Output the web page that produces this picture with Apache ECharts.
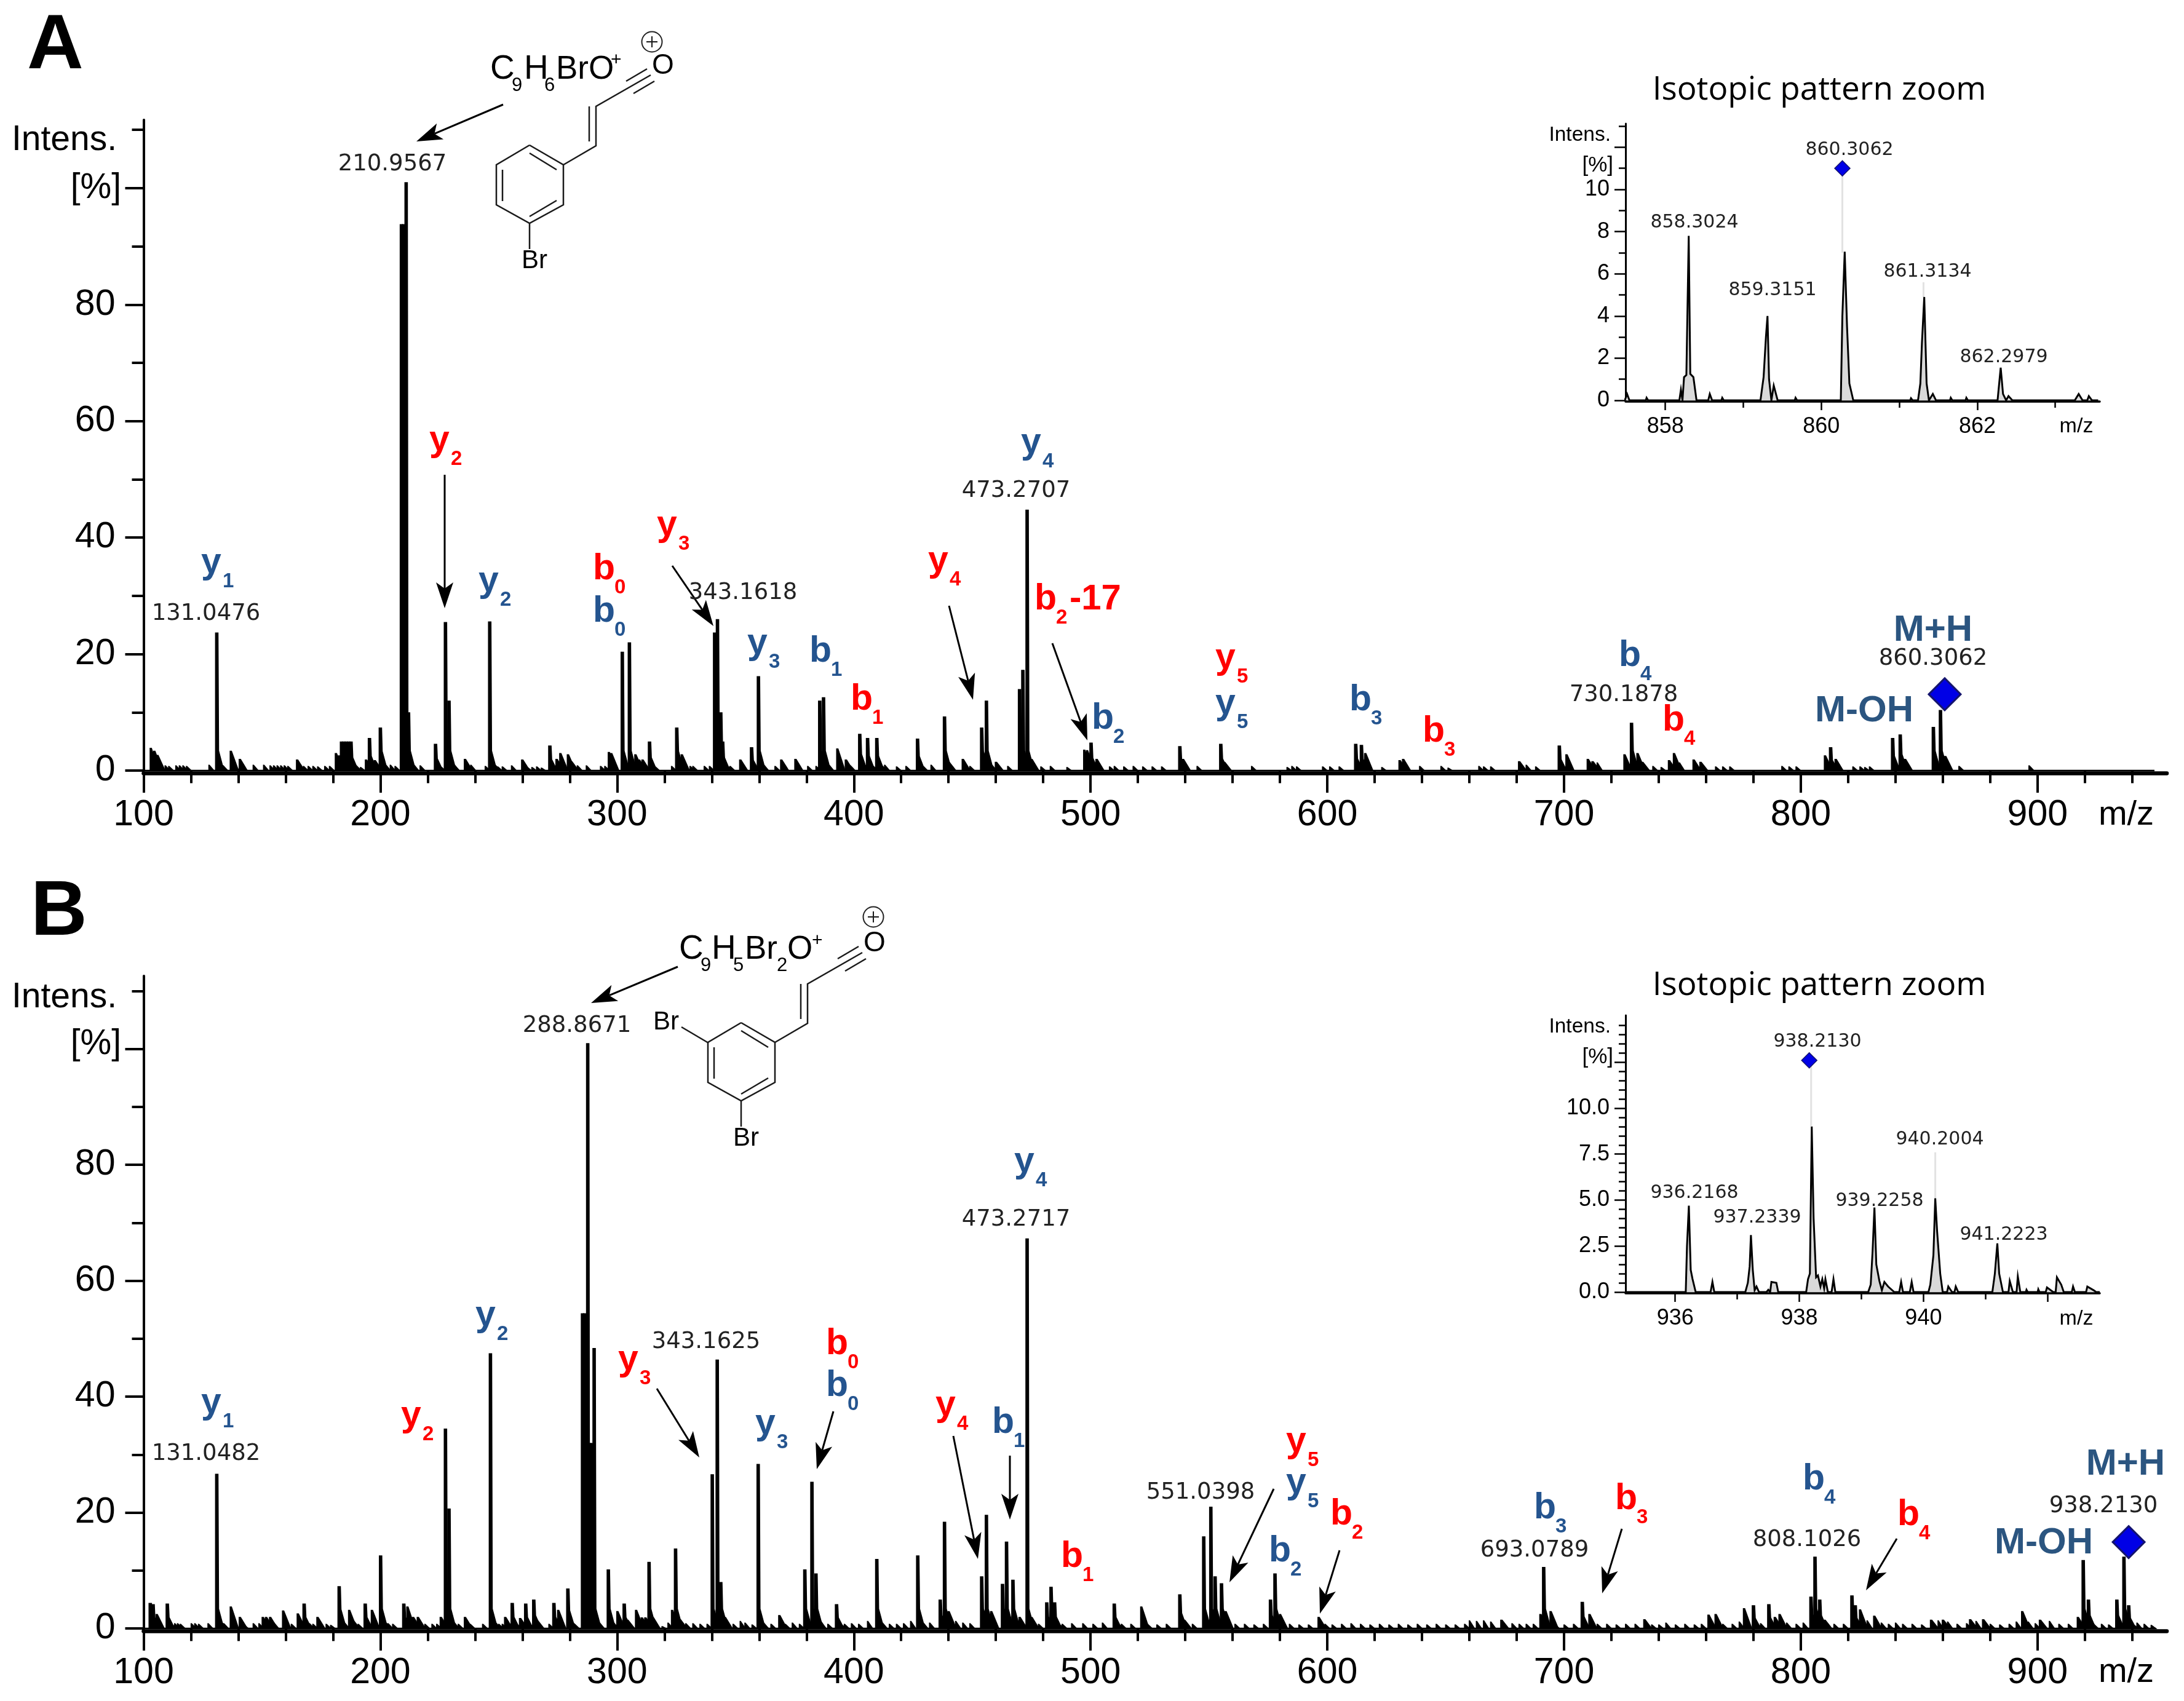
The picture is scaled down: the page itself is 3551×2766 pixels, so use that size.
<!DOCTYPE html>
<html><head><meta charset="utf-8">
<style>html,body{margin:0;padding:0;background:#fff}#c{width:3551px;height:2766px}</style>
<script src="https://cdn.jsdelivr.net/npm/echarts@6/dist/echarts.min.js"></script>
</head><body><div id="c"></div>
<script>
// ---------- values ----------
const peaksA = [[103,3.9],[104.5,3.4],[105.8,2.7],[109.1,.9],[110.6,.8],[113.6,.9],[115.1,.9],[116.6,.9],[118.1,.8],[127.6,1],[130.9,23.7],[133.5,.9],[136.8,3.4],[138.3,1],[140.6,2],[146.3,1],[150.7,1],[153.4,.9],[154.9,.9],[156.4,.9],[157.9,.9],[159.4,.9],[160.9,.8],[164.8,1.9],[167.5,.8],[169.5,.8],[171.5,.8],[173.5,.7],[176.5,.8],[178.5,.8],[181.2,3],[182.5,2.6],[183.6,5],[184.6,5],[185.6,5],[186.6,5],[187.6,5],[189.8,.9],[191.6,.6],[193.9,1.9],[195.4,5.6],[197.6,1.8],[200,7.4],[204.2,1],[206.2,.8],[208.9,93.8],[209.8,93.8],[210.9,101],[211.9,10],[216.8,.9],[223.3,4.6],[227.5,25.5],[229,12],[231.3,.9],[235.7,2],[238.2,1],[244.3,.8],[246.2,25.6],[249.5,.7],[251.5,.7],[255.4,.9],[259.9,1.9],[262,.6],[264,.6],[266,.7],[268,.5],[271.6,4.3],[274.4,2],[276,3],[279.2,2.8],[280.6,1.6],[281.8,.9],[283.2,.9],[287,.9],[293,.8],[294.8,.8],[296.5,3.2],[297.5,3],[302.2,20.4],[305.2,22],[307.7,2.8],[309.2,1.9],[310.7,1.9],[313.7,5],[323,.8],[325.2,7.4],[327.3,2.8],[330.8,.8],[332,.8],[336.8,.8],[339,.8],[341.2,23.7],[342.4,26],[343.8,10],[344.6,5],[347.7,.8],[352,1.9],[356.8,4],[359.7,16.2],[366.7,.8],[369.3,1.9],[375.3,2],[380.5,.8],[384,.8],[385.6,12],[387.2,12.6],[393,3.8],[396.6,1.9],[398.5,.9],[402.5,6.3],[405.8,5.6],[409.7,5.6],[413,1],[418,.7],[422,.8],[426.9,5.5],[432.6,1],[438.3,9.3],[440,1.5],[446,2],[449,.8],[454,7.4],[456,12],[460,1.5],[465,.8],[470,14],[471.4,17.3],[473.2,44.8],[475,2],[479,.7],[483,.8],[490,.6],[497.3,3.6],[498.5,3.5],[500.2,4.8],[502.5,2],[508,.7],[510,.8],[514,.7],[518,.8],[522,.7],[526,.7],[530,.7],[537.7,4.2],[539,2],[545,.8],[555,4.6],[556.4,1.5],[568,.8],[583,.6],[585,.8],[587,.7],[598,.7],[601,.7],[605,.7],[612,4.6],[614.4,4.4],[616,3],[623,.6],[630.5,1.8],[632,2],[639,.8],[648,.8],[651,.5],[664,.8],[666,.7],[669,.7],[681,1.6],[684,1],[688,.7],[698,4.3],[701,2.8],[710,2],[712,1.6],[714,1.4],[725.5,2.8],[728.5,8.2],[731,3],[733,1.5],[737.5,.8],[741,.6],[744.3,1.8],[746.4,3],[748.7,1.4],[754.7,1.9],[757.6,1.5],[764,.7],[767,.7],[770,.7],[792,.8],[795,.7],[798,.7],[810.2,2.6],[812.6,4],[814.7,2],[822,.7],[825,.7],[827,.6],[829,.7],[838.8,5.6],[842,6.2],[844,2],[856,7.5],[859,10.4],[861,2.5],[866.8,.8],[896.4,.9]];

const peaksB = [[102.8,4.4],[104,4.2],[105.5,2.5],[110,4.3],[113.1,.9],[114.3,.9],[115.5,.8],[120.1,.9],[121.6,.9],[123.2,.8],[127.2,.9],[130.9,26.7],[133.8,.9],[136.8,3.8],[140.6,2],[142.3,.7],[146.3,.9],[148.7,.9],[150.3,2],[151.7,2],[153.4,2],[155,1],[158.9,3.1],[160.4,.9],[162.4,.8],[165.1,2.6],[167.8,4.3],[170,.9],[171.5,.8],[173.4,2],[177.1,.8],[179,.6],[182.6,7.3],[184,.9],[186.8,3.2],[188.2,1.5],[190.6,.8],[193.6,4.3],[196.4,3.2],[200.1,12.6],[203.2,.9],[205.2,.8],[209.9,4.3],[211.4,3.8],[213.8,2],[215.8,2],[218.8,.8],[221.8,.8],[223.8,.8],[225.5,2],[227.5,34.5],[229,20.7],[232.9,.8],[235.7,2],[237.9,.8],[243.2,.8],[246.5,47.5],[250,.8],[251.5,.8],[252.7,2],[255.7,4.4],[257,1.2],[259,1.8],[261.4,4.3],[264.8,5],[266,1.5],[271.2,.8],[273.3,4.4],[275.1,3.2],[279.2,6.9],[282,.8],[285.4,54.4],[286.4,54.4],[287.6,101],[288.6,32],[289.3,32],[290.3,48.4],[292.5,.8],[296.3,10.2],[300.1,3],[303,4.3],[304.3,1.5],[308,3.2],[310.4,1.9],[311.9,1.9],[313.5,11.5],[315,2],[319,.4],[321.5,1],[323.2,3.2],[324.7,13.8],[326.5,1.6],[329,.9],[332,.9],[335,.8],[338,.8],[340.2,26.6],[342.3,46.4],[343.8,8],[345.5,2],[349,.8],[352,1.3],[354,1],[357,.7],[359.6,28.4],[362,.8],[365,.8],[368.5,2.3],[371,.8],[374,1],[377,.8],[379.3,10.2],[382.3,25.3],[384,9.5],[386,1.3],[389,.8],[392.7,4.2],[396,.8],[399,.9],[402,.8],[405.8,1.3],[409.7,12],[412,1],[415,.8],[418,.8],[421,.9],[424,1.3],[427,12.6],[429,1],[432,1],[436.5,5],[438.3,18.4],[440,3],[443,1.3],[446,1],[449,.9],[454,9],[456,19.6],[458,3],[462.8,7.7],[464.5,15],[467.2,8.4],[470,2],[473.2,67.3],[475,2],[478,.8],[481.5,4.5],[483.3,7.2],[484.8,4.5],[488,.8],[492,.9],[496.7,.9],[501,.8],[505,1],[510,4.3],[513,.8],[517,.8],[521.4,3.8],[524,.8],[528,.7],[532,.8],[537.7,5.9],[539.5,1.5],[543,.8],[547.8,15.9],[550.8,21],[552.6,9],[555.3,7.8],[557,3],[561,.8],[565,.8],[569,.7],[573,.8],[576,5],[577.9,9.5],[580,2.5],[584,.8],[588,.7],[592,.7],[596.3,2],[599,.8],[602,.7],[606,.8],[610,.9],[614,.8],[618,.7],[622,.8],[626,.7],[630,.8],[634,.7],[638,.8],[642,.7],[646,.8],[650,.7],[654,.7],[658,.8],[660,1.4],[663,1.3],[666,1.4],[669,1.2],[673.5,1.5],[678,.9],[681,.8],[684,.8],[687,.8],[690,2.5],[691.4,10.6],[694.3,3],[696,.8],[700,.7],[704,.8],[707.7,4.6],[710.7,2.5],[714,.8],[718,.8],[722,.7],[726,.8],[730,.8],[733.9,1.6],[737,.7],[740,.7],[743,1],[747,.7],[751,.8],[755,.7],[758,.8],[761,2.4],[764,2.5],[767,.8],[771,.8],[774,1.2],[776,3.5],[780,4],[783,.9],[786.5,4.2],[789,2],[791,2.5],[794,1],[798,.8],[801,1],[804.3,5.5],[806,12.4],[808,5],[810,1.5],[814,.8],[818,.8],[821.6,5.7],[823,4],[825,3.3],[828,1.4],[831,2.2],[834,1],[837,.8],[840,1],[843,.8],[847,.8],[851,.7],[855,1.5],[858,1.4],[860,1.5],[862,1.2],[866,.8],[870,.9],[871.5,1.6],[874,1.3],[877,1.6],[880,.8],[884,.7],[888,.8],[891,1.2],[893.5,3],[896,1.2],[899,.9],[901,1.5],[905,1.3],[909,.8],[913,.8],[917,2],[919.3,11.8],[921.5,5],[923,1.2],[927,.8],[930,.7],[933.5,5],[936.5,12.4],[938.5,4],[942,1],[945,.8],[948,.6]];

const baselineA = [[100,0],[949.4,0]];
const baselineB = [[100,0],[950,0]];

const insetA = [[857.48,0],[857.51,.3],[857.54,0],[857.75,0],[857.76,.12],[857.78,0],[858.18,0],[858.2,.5],[858.22,0],[858.24,1.1],[858.27,1.2],[858.30,7.8],[858.32,1.25],[858.36,1.1],[858.4,0],[858.55,0],[858.57,.3],[858.6,0],[858.72,0],[858.73,.12],[858.75,0],[859.22,0],[859.26,1.1],[859.29,3],[859.31,4],[859.33,1],[859.36,0],[859.39,.7],[859.44,0],[859.66,0],[859.67,.12],[859.69,0],[860.25,0],[860.27,4],[860.3,7.05],[860.33,3.5],[860.36,.8],[860.41,0],[861.14,0],[861.15,.1],[861.17,0],[861.24,0],[861.27,.8],[861.29,2.7],[861.32,4.9],[861.35,.8],[861.38,0],[861.43,.3],[861.47,0],[861.65,0],[861.66,.12],[861.68,0],[861.85,0],[861.86,.12],[861.88,0],[862.26,0],[862.3,1.55],[862.33,.3],[862.37,0],[862.4,.2],[862.45,0],[863.25,0],[863.3,.3],[863.35,0],[863.41,0],[863.43,.2],[863.47,0],[863.55,0]];

const insetB = [[935.2,0],[936.17,0],[936.19,2.5],[936.22,4.7],[936.25,1.2],[936.28,.7],[936.33,0],[936.57,0],[936.6,.55],[936.63,0],[937.13,0],[937.17,.5],[937.2,1.4],[937.22,3.1],[937.25,1.2],[937.28,.1],[937.31,.3],[937.35,0],[937.47,0],[937.5,.12],[937.53,0],[937.55,.55],[937.63,.5],[937.66,0],[938.11,0],[938.14,.7],[938.17,1],[938.2,9],[938.23,4],[938.27,.8],[938.3,.9],[938.34,.3],[938.37,.7],[938.4,.2],[938.42,.7],[938.46,0],[938.52,0],[938.55,.7],[938.58,0],[939.11,0],[939.15,.4],[939.18,2.2],[939.21,4.6],[939.24,1.5],[939.29,.6],[939.33,.1],[939.37,.55],[939.43,.3],[939.53,0],[939.61,0],[939.64,.55],[939.67,0],[939.78,0],[939.81,.55],[939.84,0],[940.08,0],[940.11,.4],[940.16,2],[940.19,5.1],[940.22,3.3],[940.27,1],[940.31,0],[940.38,0],[940.4,.3],[940.46,0],[940.5,0],[940.52,.3],[940.56,0],[941.11,0],[941.15,1],[941.19,2.65],[941.22,1],[941.28,0],[941.37,0],[941.39,.6],[941.44,0],[941.5,0],[941.52,.85],[941.56,0],[941.65,0],[941.66,.12],[941.68,0],[941.84,0],[941.85,.15],[941.87,0],[941.97,0],[941.99,.25],[942.09,0],[942.13,0],[942.15,.8],[942.22,.4],[942.26,0],[942.39,0],[942.41,.3],[942.44,0],[942.62,0],[942.64,.3],[942.75,.08],[942.78,0],[942.84,0]];

const stemsA = [[[860.27,7],[860.27,10.8]],[[861.31,4.9],[861.31,5.6]]];
const stemsB = [[[938.19,9],[938.19,12.4]],[[940.19,5.1],[940.19,7.6]]];
const diamondMainA = [[860.8,13.1]];
const diamondMainB = [[938.5,14.9]];
const diamondInsetA = [[860.27,11]];
const diamondInsetB = [[938.16,12.6]];

const mainXMajor = [100,200,300,400,500,600,700,800,900];
const mainXMinor = [120,140,160,180,220,240,260,280,320,340,360,380,420,440,460,480,520,540,560,580,620,640,660,680,720,740,760,780,820,840,860,880,920,940];
const mainYMajor = [0,20,40,60,80,100];
const mainYMinor = [10,30,50,70,90,110];
const mainYLabels = [0,20,40,60,80];
const insetAXMajor = [858,860,862], insetAXMinor = [859,861,863];
const insetAYMajor = [0,2,4,6,8,10,12], insetAYMinor = [1,3,5,7,9,11,13];
const insetAYLabels = [0,2,4,6,8,10];
const insetBXMajor = [936,938,940,942], insetBXMinor = [937,939,941];
const insetBXLabels = [936,938,940];
const insetBYMajor = [0,2.5,5,7.5,10,12.5];
const insetBYMinor = [.5,1,1.5,2,3,3.5,4,4.5,5.5,6,6.5,7,8,8.5,9,9.5,10.5,11,11.5,12,13,13.5,14,14.5];
const insetBYLabels = [0,2.5,5,7.5,10];

// ---------- annotations ----------
const RED='#ff0000', BLUE='#24548f', NAVY='#2b5580';
// letter, subscript, colour, left, baseline
const ions = [
 ['y','1',BLUE,327,936],['y','2',RED,698,737],['y','2',BLUE,778,966],['b','0',RED,964,946],['b','0',BLUE,964,1015],
 ['y','3',RED,1068,875],['y','3',BLUE,1215,1067],['b','1',BLUE,1316,1080],['b','1',RED,1383,1158],['y','4',RED,1509,933],
 ['y','4',BLUE,1660,741],['b','2',RED,1682,995],['b','2',BLUE,1775,1189],['y','5',RED,1976,1091],['y','5',BLUE,1976,1165],
 ['b','3',BLUE,2194,1159],['b','3',RED,2313,1210],['b','4',BLUE,2632,1087],['b','4',RED,2703,1192],
 ['y','1',BLUE,327,2302],['y','2',RED,652,2323],['y','2',BLUE,773,2160],['y','3',RED,1005,2232],['y','3',BLUE,1228,2336],
 ['b','0',RED,1343,2206],['b','0',BLUE,1343,2274],['y','4',RED,1521,2306],['b','1',BLUE,1613,2334],['y','4',BLUE,1649,1910],
 ['b','1',RED,1725,2552],['y','5',RED,2091,2365],['y','5',BLUE,2091,2432],['b','2',RED,2163,2483],['b','2',BLUE,2063,2543],
 ['b','3',BLUE,2494,2473],['b','3',RED,2626,2458],['b','4',BLUE,2931,2426],['b','4',RED,3085,2484]
];
const massLabels = [
 ['131.0476',335,998],['210.9567',638,267],['343.1618',1208,964],['473.2707',1652,798],['730.1878',2640,1130],['860.3062',3143,1071],
 ['131.0482',335,2364],['288.8671',938,1668],['343.1625',1148,2182],['473.2717',1652,1983],['551.0398',1952,2427],['693.0789',2495,2521],['808.1026',2938,2504],['938.2130',3420,2449]
];
const insetLabels = [
 ['858.3024',2755,362],['859.3151',2882,472],['860.3062',3007,244],['861.3134',3134,442],['862.2979',3258,581],
 ['936.2168',2755,1940],['937.2339',2857,1980],['938.2130',2955,1694],['939.2258',3056,1953],['940.2004',3154,1853],['941.2223',3258,2008]
];
const arrows = [
 [818,170,677,230],[723,772,723,989],[1093,920,1160,1018],[1543,985,1582,1138],[1711,1046,1768,1204],
 [1102,1572,961,1631],[1068,2258,1137,2370],[1355,2295,1328,2389],[1550,2335,1590,2535],[1642,2367,1642,2471],
 [2071,2421,1999,2573],[2178,2521,2146,2624],[2637,2486,2605,2591],[3084,2502,3034,2586]
];

// ---------- helpers ----------
const SANS='"Liberation Sans"', DV='"DejaVu Sans"';
const g=[];
function T(text,x,y,size,opt){opt=opt||{};
 g.push({type:'text',silent:true,x:x,y:y,z:20,style:{text:text,fill:opt.fill||'#000',textAlign:opt.align||'left',textVerticalAlign:'middle',
  font:(opt.weight||'normal')+' '+size+'px '+(opt.family||SANS)}});}
function B(text,x,base,size,opt){T(text,x,base-0.3465*size,size,opt);}
function L(pts,w,c){g.push({type:'polyline',silent:true,z:15,shape:{points:pts},style:{stroke:c||'#1a1a1a',lineWidth:w||2.5,fill:null}});}
function arrow(a){const [x0,y0,x1,y1]=a,dx=x1-x0,dy=y1-y0,l=Math.hypot(dx,dy),u=dx/l,v=dy/l;
 const len=42,hw=14,notch=32;
 L([[x0,y0],[x1-u*notch,y1-v*notch]],3,'#000');
 g.push({type:'polygon',silent:true,z:16,shape:{points:[[x1,y1],[x1-u*len-v*hw,y1-v*len+u*hw],[x1-u*notch,y1-v*notch],[x1-u*len+v*hw,y1-v*len-u*hw]]},style:{fill:'#000'}});}
function chem(dx,dy){const P=(x,y)=>[x+dx,y+dy];
 L([P(861,236),P(916,268),P(916,333),P(861,363),P(807,333),P(807,268),P(861,236)]);
 L([P(861,249),P(905,276)]);L([P(817,276),P(817,327)]);L([P(861,352),P(905,326)]);
 L([P(916,268),P(969,237),P(969,173),P(1058,122)]);L([P(958,230),P(958,173)]);
 L([P(1018,132),P(1052,112)]);L([P(1030,152),P(1064,132)]);
 L([P(861,363),P(861,405)]);
 const o=P(1078,107);T('O',o[0],o[1],46,{align:'center'});
 const b=P(869,424);T('Br',b[0],b[1],42,{align:'center'});
}
function plus(x,y){g.push({type:'circle',silent:true,z:15,shape:{cx:x,cy:y,r:16.5},style:{fill:null,stroke:'#222',lineWidth:2}});L([[x-9,y],[x+9,y]],2);L([[x,y-9],[x,y+9]],2);}

// panel letters
B('A',44,120,127,{weight:'bold'});B('B',50,1529,127,{weight:'bold'});
// side labels
T('Intens.',190,228,57,{align:'right'});T('[%]',197,306,57,{align:'right'});
T('Intens.',190,1622,57,{align:'right'});T('[%]',197,1698,57,{align:'right'});
T('m/z',3457,1326,56,{align:'center'});T('m/z',3457,2720,56,{align:'center'});
// insets text
T('Isotopic pattern zoom',2958,147,53,{align:'center',family:'"Open Sans"'});
T('Isotopic pattern zoom',2958,1603,53,{align:'center',family:'"Open Sans"'});
T('Intens.',2619,220,33.5,{align:'right'});T('[%]',2623,269,35,{align:'right'});
T('Intens.',2619,1670,33.5,{align:'right'});T('[%]',2623,1719,35,{align:'right'});
T('m/z',3376,694,34,{align:'center'});T('m/z',3376,2145,34,{align:'center'});
// ions
ions.forEach(i=>{B(i[0],i[3],i[4],59,{weight:'bold',fill:i[2]});B(i[1],i[3]+35,i[4]+21,33,{weight:'bold',fill:i[2]});});
B('-17',1739,995,58,{weight:'bold',fill:RED});
B('M+H',3143,1046,60,{weight:'bold',fill:NAVY,align:'center'});
B('M-OH',2951,1177,60,{weight:'bold',fill:NAVY});
B('M+H',3456,2402,60,{weight:'bold',fill:NAVY,align:'center'});
B('M-OH',3243,2530,60,{weight:'bold',fill:NAVY});
// mass labels
massLabels.forEach(m=>T(m[0],m[1],m[2],37,{align:'center',family:DV,fill:'#222'}));
insetLabels.forEach(m=>T(m[0],m[1],m[2],30,{align:'center',family:DV,fill:'#222'}));
arrows.forEach(arrow);
// structures and formulae
chem(0,0);chem(344,1427);
L([[1108,1670],[1152,1696]]);T('Br',1083,1662,42,{align:'center'});
plus(1060,68);plus(1420,1491);
B('C',797,132,55);B('9',832,150,31);B('H',852,132,55);B('6',885,150,31);B('BrO',904,132,53);B('+',993,108,30);
B('C',1104,1563,55);B('9',1139,1581,31);B('H',1157,1563,55);B('5',1192,1581,31);B('Br',1211,1563,53);B('2',1263,1581,31);B('O',1280,1563,53);B('+',1320,1540,30);

// ---------- chart ----------
function xAxes(gi,min,max,major,minor,labels,o){return [
 {type:'value',gridIndex:gi,min:min,max:max,offset:o.off,position:'bottom',splitLine:{show:false},
  axisLine:{show:true,onZero:false,lineStyle:{color:'#000',width:o.lw}},
  axisTick:{show:true,customValues:major,length:o.maj,lineStyle:{color:'#000',width:o.tw}},
  axisLabel:{show:true,customValues:labels,margin:o.m,fontFamily:SANS,fontSize:o.fs,color:'#000',hideOverlap:false,formatter:v=>String(v)}},
 {type:'value',gridIndex:gi,min:min,max:max,offset:o.off,position:'bottom',splitLine:{show:false},axisLine:{show:false},
  axisTick:{show:true,customValues:minor,length:o.min,lineStyle:{color:'#000',width:o.tw}},axisLabel:{show:false}}
];}
function yAxes(gi,max,major,minor,labels,o){return [
 {type:'value',gridIndex:gi,min:0,max:max,position:'left',splitLine:{show:false},
  axisLine:{show:true,onZero:false,lineStyle:{color:'#000',width:o.lw}},
  axisTick:{show:true,customValues:major,length:o.maj,lineStyle:{color:'#000',width:o.tw}},
  axisLabel:{show:true,customValues:labels,margin:o.m,fontFamily:SANS,fontSize:o.fs,color:'#000',hideOverlap:false,formatter:o.fmt}},
 {type:'value',gridIndex:gi,min:0,max:max,position:'left',splitLine:{show:false},axisLine:{show:false},
  axisTick:{show:true,customValues:minor,length:o.min,lineStyle:{color:'#000',width:o.tw}},axisLabel:{show:false}}
];}
const mx={off:4.5,lw:6.5,maj:31.5,min:20.5,tw:4,m:39,fs:59}, my={lw:4,maj:30,min:19,tw:4,m:46,fs:59,fmt:v=>String(v)};
const ix={off:2,lw:3.5,maj:14,min:12,tw:2.5,m:23,fs:36}, iy={lw:3,maj:18,min:11,tw:2.5,m:26,fs:36,fmt:v=>String(v)};
const iyb=Object.assign({},iy,{fmt:v=>v.toFixed(1)});

const option={animation:false,backgroundColor:'#fff',
 grid:[
  {left:233.5,top:195,width:3289.5,height:1058},
  {left:233.5,top:1587,width:3289.5,height:1061},
  {left:2643,top:201,width:771,height:450},
  {left:2643,top:1651,width:771,height:450}
 ],
 xAxis:[].concat(
  xAxes(0,100,954.6,mainXMajor,mainXMinor,mainXMajor,mx),
  xAxes(1,100,954.6,mainXMajor,mainXMinor,mainXMajor,mx),
  xAxes(2,857.49,863.57,insetAXMajor,insetAXMinor,insetAXMajor,ix),
  xAxes(3,935.2,942.84,insetBXMajor,insetBXMinor,insetBXLabels,ix)),
 yAxis:[].concat(
  yAxes(0,111.7,mainYMajor,mainYMinor,mainYLabels,my),
  yAxes(1,112.6,mainYMajor,mainYMinor,mainYLabels,my),
  yAxes(2,13.12,insetAYMajor,insetAYMinor,insetAYLabels,iy),
  yAxes(3,15.05,insetBYMajor,insetBYMinor,insetBYLabels,iyb)),
 series:[],
 graphic:{elements:g}
};
function spectrum(data,ax){return {type:'custom',xAxisIndex:ax,yAxisIndex:ax,clip:false,silent:true,encode:{x:0,y:1},data:data,
 renderItem:(p,api)=>{const mz=api.value(0),h=api.value(1),top=api.coord([mz,h]),base=api.coord([mz,0]);
  const x=top[0],y0=base[1]+1,yt=top[1];
  if(h<4){const bx=api.coord([mz+(h<1.5?2.6:3.6),0])[0],hw=h<1.5?1:1.8;
   return {type:'polygon',shape:{points:[[x-hw,y0],[x-hw,yt],[x+hw,yt],[bx,y0]]},style:{fill:'#000'}};}
  const bx=api.coord([mz+4.8,0])[0],hw=2.8;
  const k1=api.coord([mz,Math.min(h*.45,3.4)])[1],k2=api.coord([mz,Math.min(h*.15,1)])[1];
  return {type:'polygon',shape:{points:[[x-hw,y0],[x-hw,yt],[x+hw,yt],[x+hw+1,k1],[x+hw+7,k2],[bx,y0]]},style:{fill:'#000'}};}};}
function flat(data,ax){return {type:'line',xAxisIndex:ax,yAxisIndex:ax,data:data,showSymbol:false,silent:true,clip:false,lineStyle:{color:'#000',width:2.5},z:3};}
function profile(data,ax){return {type:'line',xAxisIndex:ax,yAxisIndex:ax,data:data,showSymbol:false,silent:true,smooth:false,
 lineStyle:{color:'#000',width:3,join:'miter'},areaStyle:{color:'#d9d9d9',opacity:1,origin:'start'},z:3};}
function stem(data,ax){return {type:'line',xAxisIndex:ax,yAxisIndex:ax,data:data,showSymbol:false,silent:true,lineStyle:{color:'#e2e2e2',width:3},z:2};}
function diamond(data,ax,size){return {type:'scatter',xAxisIndex:ax,yAxisIndex:ax,data:data,symbol:'diamond',symbolSize:size,silent:true,
 itemStyle:{color:'#0000e6',borderColor:'#14146e',borderWidth:size>30?3:1.5,opacity:1},z:6};}
option.series.push(spectrum(peaksA,0),spectrum(peaksB,2),flat(baselineA,0),flat(baselineB,2),diamond(diamondMainA,0,52),diamond(diamondMainB,2,52),
 profile(insetA,4),profile(insetB,6),diamond(diamondInsetA,4,25),diamond(diamondInsetB,6,25));
stemsA.forEach(s=>option.series.push(stem(s,4)));
stemsB.forEach(s=>option.series.push(stem(s,6)));

const chart=echarts.init(document.getElementById('c'),null,{renderer:'canvas',width:3551,height:2766});
chart.setOption(option);
</script></body></html>
